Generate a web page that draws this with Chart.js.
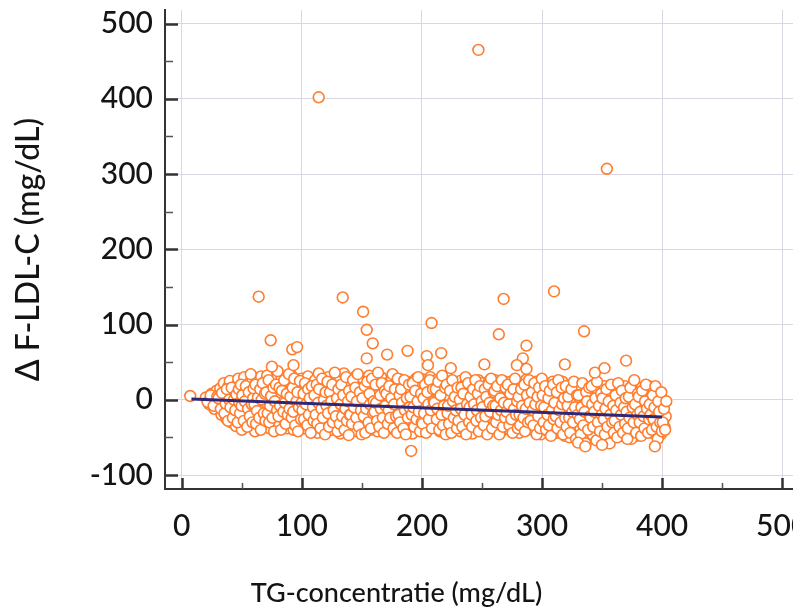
<!DOCTYPE html>
<html>
<head>
<meta charset="utf-8">
<title>TG-concentratie vs F-LDL-C</title>
<script src="https://cdn.jsdelivr.net/npm/chart.js@4.4.1/dist/chart.umd.min.js"></script>
<style>
  html, body { margin: 0; padding: 0; background: #fff; overflow: hidden; }
  #wrap { width: 801px; height: 612px; background: #fff; }
  canvas { display: block; }
</style>
</head>
<body>
<!-- the original picture is cut off at ~793px, so the canvas stops there -->
<div id="wrap"><canvas id="scatterChart" width="793" height="612"></canvas></div>
<script>
/* ===============================
   DATA
   =============================== */

// axis ticks
const xTicks = [0, 100, 200, 300, 400, 500];
const xMinor = [50, 150, 250, 350, 450];
const yTicks = [-100, 0, 100, 200, 300, 400, 500];
const yMinor = [-50, 50, 150, 250, 350, 450];

// main cloud: TG (mg/dL) and delta F-LDL-C (mg/dL), one line per ~10 mg/dL band
const cloudTG = [
  20,23,25,27,28,29,
  31,32,33,34,35,36,37,38,39,39,
  40,41,42,43,44,45,46,46,47,48,49,49,
  50,51,51,52,53,54,55,56,57,57,58,59,59,
  60,61,62,62,63,64,65,66,67,68,68,69,69,
  70,71,71,72,73,74,75,76,77,78,78,79,79,
  80,81,82,82,83,84,85,86,86,87,88,89,89,
  90,91,92,92,93,94,95,96,97,97,98,99,99,
  100,101,101,102,103,104,105,106,107,107,108,109,109,
  110,111,112,112,113,114,115,116,117,117,118,119,119,
  120,121,121,122,123,124,125,126,127,127,128,129,129,
  130,131,132,132,133,134,135,136,137,137,138,139,139,
  140,141,141,142,143,144,145,146,147,147,148,149,149,
  150,151,152,152,153,154,155,156,157,157,158,159,159,
  160,161,161,162,163,164,165,166,167,167,168,169,169,
  170,171,172,172,173,174,175,176,177,177,178,179,179,
  180,181,181,182,183,184,185,186,187,187,188,189,189,
  190,191,192,192,193,194,195,196,197,197,198,199,199,
  200,201,201,202,203,204,205,206,207,207,208,209,209,
  210,211,212,212,213,214,215,216,217,217,218,219,219,
  220,221,221,222,223,224,225,226,227,227,228,229,229,
  230,231,232,232,233,234,235,236,237,237,238,239,239,
  240,241,241,242,243,244,245,246,247,247,248,249,249,
  250,251,252,252,253,254,255,256,257,257,258,259,259,
  260,261,261,262,263,264,265,266,267,267,268,269,269,
  270,271,272,272,273,274,275,276,277,277,278,279,279,
  280,281,281,282,283,284,285,286,287,287,288,289,289,
  290,291,292,292,293,294,295,296,297,297,298,299,299,
  300,301,301,302,303,304,305,306,307,307,308,309,309,
  310,311,312,312,313,314,315,316,317,317,318,319,319,
  320,321,321,322,323,324,325,326,327,327,328,329,329,
  330,331,332,332,333,334,335,336,337,337,338,339,339,
  340,341,341,342,343,344,345,346,347,347,348,349,349,
  350,351,352,352,353,354,355,356,357,357,358,359,359,
  360,361,361,362,363,364,365,366,367,367,368,369,369,
  370,371,372,372,373,374,375,376,377,377,378,379,379,
  380,381,381,382,383,384,385,386,387,387,388,389,389,
  390,391,392,392,393,394,395,396,397,397,398,399,399,
  400,401,401,402,403
];
const cloudDelta = [
  3,-6,8,-12,1,12,
  -8,15,-20,5,22,-3,-25,10,-14,18,
  25,-30,4,-16,12,-35,20,-6,28,-22,-1,8,
  -40,14,-10,30,-25,3,-33,22,-15,9,-4,26,-20,
  17,-42,-8,28,-28,6,-18,31,-36,12,-2,24,-13,
  -24,32,-5,15,-38,-14,20,2,-30,27,-9,11,-20,
  8,-34,22,-17,30,-3,-26,13,-10,25,-38,4,-21,
  -12,33,-29,6,-40,18,-7,27,-19,-1,12,-33,22,
  28,-22,3,-38,15,-11,31,-30,-4,20,-16,9,-42,
  -8,26,-27,12,-44,35,-15,2,23,-35,-3,16,-23,
  19,-33,-10,30,-20,5,-40,24,-6,13,-28,33,-14,
  -25,10,-45,27,-2,-18,35,-36,16,-9,22,-30,4,
  24,-12,-38,8,-27,30,-5,-42,14,-19,1,20,-33,
  -16,28,-35,3,-24,16,-8,32,-40,-1,11,-28,21,
  7,-30,25,-14,-42,13,-22,30,-6,-36,18,-11,2,
  -20,22,-3,-37,12,-27,28,-9,-40,6,-17,25,-31,
  15,-35,-12,27,-24,4,-42,18,-7,-29,23,-15,9,
  -26,10,-45,24,-4,-18,28,-33,1,-12,16,-38,20,
  -8,27,-31,12,-20,-40,18,-3,30,-25,6,-14,22,
  20,-36,-10,26,-22,3,-42,14,-16,28,-30,-1,10,
  -14,30,-28,6,-38,17,-6,24,-34,-19,11,-3,-25,
  12,-24,-42,25,-9,-32,19,-16,4,28,-38,-2,-21,
  -30,16,-8,-45,23,-18,5,-36,26,-12,-26,10,-3,
  22,-28,-12,8,-40,15,-20,25,-34,-4,12,-25,2,
  -18,26,-38,4,-26,14,-10,-42,20,-30,8,-15,24,
  6,-32,18,-20,-40,24,-12,-28,10,-5,-36,15,-22,
  -26,12,-44,22,-8,-34,2,-18,27,-38,-14,16,-30,
  18,-22,-40,8,-12,-30,24,-4,-36,12,-20,-46,2,
  -16,22,-34,-4,-26,10,-42,16,-20,-8,-32,4,24,
  -28,14,-44,-10,20,-22,2,-36,-16,24,-30,8,-48,
  10,-34,-18,16,-50,-6,-26,20,-40,0,-14,-30,12,
  -22,8,-38,18,-12,-55,-28,2,-44,14,-18,-32,-4,
  14,-30,-10,-46,20,-20,4,-38,-14,10,-26,-50,-2,
  -34,6,-20,18,-44,-8,-28,12,-16,-52,-2,-36,8,
  -12,16,-40,-24,4,-32,10,-48,-18,-6,-30,18,-42,
  12,-26,-44,-8,-34,6,-18,20,-38,-2,-28,14,-48,
  -20,10,-36,-6,16,-42,-14,-28,4,-40,-10,18,-24,
  -30,2,-44,-14,12,-24,-38,-4,-18,8,-34,-46,-10,
  -16,-28,-6,-36,-22
];

// second layer of the cloud (the picture is very dense)
const cloud2TG = [
  21.5,24,26.5,29.5,
  30.5,32.5,33.5,35.5,36.5,37.5,38.5,39.5,
  40.5,41.5,42.5,43.5,44.5,45.5,46.5,47.5,47.8,48.5,49.2,49.8,
  50.4,51.6,52.5,53.3,54.5,55.2,55.8,56.6,57.4,58.3,58.8,59.4,59.8,
  60.5,61.3,61.8,62.6,63.4,64.5,65.3,65.8,66.5,67.4,68.3,69.2,69.7,
  70.4,71.5,72.3,72.8,73.6,74.4,75.5,76.3,76.8,77.5,78.4,79.3,79.8,
  80.5,81.3,81.8,82.6,83.4,84.5,85.3,85.8,86.5,87.4,88.3,89.2,89.7,
  90.4,91.5,92.3,92.8,93.6,94.4,95.5,96.3,96.8,97.5,98.4,99.3,99.8,
  100.5,101.3,101.8,102.6,103.4,104.5,105.3,105.8,106.5,107.4,108.3,109.2,109.7,
  110.4,111.5,112.3,112.8,113.6,114.4,115.5,116.3,116.8,117.5,118.4,119.3,119.8,
  120.5,121.3,121.8,122.6,123.4,124.5,125.3,125.8,126.5,127.4,128.3,129.2,129.7,
  130.4,131.5,132.3,132.8,133.6,134.4,135.5,136.3,136.8,137.5,138.4,139.3,139.8,
  140.5,141.3,141.8,142.6,143.4,144.5,145.3,145.8,146.5,147.4,148.3,149.2,149.7,
  150.4,151.5,152.3,152.8,153.6,154.4,155.5,156.3,156.8,157.5,158.4,159.3,159.8,
  160.5,161.3,161.8,162.6,163.4,164.5,165.3,165.8,166.5,167.4,168.3,169.2,169.7,
  170.4,171.5,172.3,172.8,173.6,174.4,175.5,176.3,176.8,177.5,178.4,179.3,179.8,
  180.5,181.3,181.8,182.6,183.4,184.5,185.3,185.8,186.5,187.4,188.3,189.2,189.7,
  190.4,191.5,192.3,192.8,193.6,194.4,195.5,196.3,196.8,197.5,198.4,199.3,199.8,
  200.5,201.3,201.8,202.6,203.4,204.5,205.3,205.8,206.5,207.4,208.3,209.2,209.7,
  210.4,211.5,212.3,212.8,213.6,214.4,215.5,216.3,216.8,217.5,218.4,219.3,219.8,
  220.5,221.3,221.8,222.6,223.4,224.5,225.3,225.8,226.5,227.4,228.3,229.2,229.7,
  230.4,231.5,232.3,232.8,233.6,234.4,235.5,236.3,236.8,237.5,238.4,239.3,239.8,
  240.5,241.3,241.8,242.6,243.4,244.5,245.3,245.8,246.5,247.4,248.3,249.2,249.7,
  250.4,251.5,252.3,252.8,253.6,254.4,255.5,256.3,256.8,257.5,258.4,259.3,259.8,
  260.5,261.3,261.8,262.6,263.4,264.5,265.3,265.8,266.5,267.4,268.3,269.2,269.7,
  270.4,271.5,272.3,272.8,273.6,274.4,275.5,276.3,276.8,277.5,278.4,279.3,279.8,
  280.5,281.3,281.8,282.6,283.4,284.5,285.3,285.8,286.5,287.4,288.3,289.2,289.7,
  290.4,291.5,292.3,292.8,293.6,294.4,295.5,296.3,296.8,297.5,298.4,299.3,299.8,
  300.5,301.3,301.8,302.6,303.4,304.5,305.3,305.8,306.5,307.4,308.3,309.2,309.7,
  310.4,311.5,312.3,312.8,313.6,314.4,315.5,316.3,316.8,317.5,318.4,319.3,319.8,
  320.5,321.3,321.8,322.6,323.4,324.5,325.3,325.8,326.5,327.4,328.3,329.2,329.7,
  330.4,331.5,332.3,332.8,333.6,334.4,335.5,336.3,336.8,337.5,338.4,339.3,339.8,
  340.5,341.3,341.8,342.6,343.4,344.5,345.3,345.8,346.5,347.4,348.3,349.2,349.7,
  350.4,351.5,352.3,352.8,353.6,354.4,355.5,356.3,356.8,357.5,358.4,359.3,359.8,
  360.5,361.3,361.8,362.6,363.4,364.5,365.3,365.8,366.5,367.4,368.3,369.2,369.7,
  370.4,371.5,372.3,372.8,373.6,374.4,375.5,376.3,376.8,377.5,378.4,379.3,379.8,
  380.5,381.3,381.8,382.6,383.4,384.5,385.3,385.8,386.5,387.4,388.3,389.2,389.7,
  390.4,391.5,392.3,392.8,393.6,394.4,395.5,396.3,396.8,397.5,398.4,399.3,399.8,
  400.5,401.5,402.5,403.5
];
const cloud2Delta = [
  -3,6,-8,4,
  2,-12,9,-18,-5,14,-28,0,
  -10,16,-24,0,-14,7,-30,14,-4,-18,20,-8,
  6,-28,-2,18,-36,-12,10,-22,34,-6,-30,2,15,
  -6,20,-32,-15,3,-24,14,-40,0,22,-18,8,-28,
  10,-18,26,-30,-8,5,-24,16,-42,-2,20,-14,38,
  -22,16,-8,-40,12,-16,26,-4,-32,8,-20,34,-12,
  4,-24,16,-16,28,-34,-2,10,-42,-10,25,-26,-4,
  -14,8,-26,22,-6,-34,14,-20,2,-44,18,-10,-28,
  6,-20,20,-32,-4,14,-38,-12,28,-24,0,-46,10,
  -8,24,-18,-36,10,-2,20,-30,-14,36,-22,2,-42,
  14,-32,-6,20,-22,6,-40,-12,30,-28,-2,12,-20,
  -20,4,-32,26,-10,16,-24,-2,34,-36,10,-14,-46,
  2,-22,18,-44,-12,24,-30,8,-6,-38,28,-18,-2,
  -16,20,-4,-28,36,-36,6,-12,22,-24,-44,12,-8,
  8,-32,-14,18,-24,2,34,-38,-6,14,-22,-44,28,
  -20,6,-30,14,-4,-38,26,-14,-46,2,-24,20,-10,
  4,-20,22,-10,-36,12,-26,-2,30,-16,-42,8,-30,
  -32,2,-18,20,-44,10,-6,-26,26,-14,-38,14,-2,
  -4,14,-26,-12,24,-40,6,-20,32,-34,-8,16,-46,
  20,-18,-8,-32,12,-44,26,-2,-24,4,-14,-38,16,
  -28,0,-12,16,-36,8,-20,30,-46,-6,22,-30,-10,
  4,-20,-36,14,-6,26,-28,-14,8,-42,18,-24,-2,
  -10,-34,14,-22,4,-46,20,-4,-16,28,-38,-8,10,
  12,-8,-30,18,-20,-46,2,-14,26,-36,-4,-24,16,
  -16,20,-6,-34,8,-26,-44,14,-12,28,-20,-2,-38,
  4,-20,-34,14,-8,-24,20,-42,-12,6,-30,26,-4,
  -28,10,-14,-34,22,-6,-46,4,-22,16,-38,-8,28,
  6,-30,-10,18,-40,-20,2,-34,12,-48,-14,20,-26,
  -4,-22,10,-38,26,-14,-30,16,-6,-46,2,-24,18,
  -36,-8,4,-24,-44,14,-16,-30,24,-10,-52,6,-20,
  6,-26,-46,-10,22,-34,-16,-58,10,-2,-40,16,-22,
  -24,18,-6,-36,-16,2,-54,24,-30,-8,-42,8,-20,
  2,-26,-46,-12,14,-36,-2,-58,-20,20,-30,-8,-44,
  -28,6,-14,-50,22,-36,-4,-20,12,-44,-10,-32,2,
  -16,-38,4,-24,16,-52,-10,-30,26,-6,-44,-20,8,
  4,-30,-16,-48,12,-22,-38,-2,20,-12,-44,-26,-6,
  -20,-40,6,-26,-10,18,-36,-52,-2,-16,-30,10,-42,
  -30,-12,-40,-2
];

// scattered points outside the cloud
const outlierTG = [
  7, 64, 74, 92, 96, 75, 93, 114, 247, 354,
  134, 151, 154, 159, 208, 171, 188, 204, 205, 216,
  154, 224, 191, 268, 310, 264, 335, 287, 252, 284,
  279, 287, 319, 344, 352, 370, 394, 330, 336, 350, 371, 139
];
const outlierDelta = [
  5, 137, 79, 67, 70, 44, 46, 402, 465, 307,
  136, 117, 93, 75, 102, 60, 65, 58, 46, 62,
  55, 42, -68, 134, 144, 87, 91, 72, 47, 55,
  46, 41, 47, 36, 42, 52, -62, -57, -62, -60, -52, -47
];

// regression line end points
const fitTG = [8, 400];
const fitDelta = [1, -23];

/* ------------------------------
   HELPERS
--------------------------------*/
function toPoints(xs, ys){
  let out = [];
  for (let i = 0; i < Math.min(xs.length, ys.length); i++) {
    out.push({ x: xs[i], y: ys[i] });
  }
  return out;
}

const FONT = "Lato, 'Open Sans', sans-serif";
const INK = "#141414";
const ORANGE = "#ff7d2e";
const NO_PAD = () => ({ left: 0, top: 0, right: 0, bottom: 0 });

// inward tick marks (axis decoration)
const innerTicks = {
  id: "innerTicks",
  afterDraw(chart){
    const ctx = chart.ctx;
    const xs = chart.scales.x;
    const ys = chart.scales.y;
    const a = chart.chartArea;

    ctx.save();
    ctx.strokeStyle = "#333";
    ctx.lineWidth = 2.5;
    ctx.beginPath();
    xTicks.forEach(v => {
      const px = Math.round(xs.getPixelForValue(v)) + 0.5;
      ctx.moveTo(px, a.bottom); ctx.lineTo(px, a.bottom - 11);
    });
    yTicks.forEach(v => {
      const py = Math.round(ys.getPixelForValue(v)) + 0.5;
      ctx.moveTo(a.left, py); ctx.lineTo(a.left + 13, py);
    });
    ctx.stroke();

    ctx.lineWidth = 1.5;
    ctx.strokeStyle = "#555";
    ctx.beginPath();
    xMinor.forEach(v => {
      const px = Math.round(xs.getPixelForValue(v)) + 0.5;
      ctx.moveTo(px, a.bottom); ctx.lineTo(px, a.bottom - 6);
    });
    yMinor.forEach(v => {
      const py = Math.round(ys.getPixelForValue(v)) + 0.5;
      ctx.moveTo(a.left, py); ctx.lineTo(a.left + 8, py);
    });
    ctx.stroke();
    ctx.restore();
  }
};

const whiteBg = {
  id: "whiteBg",
  beforeDraw(chart){
    const ctx = chart.ctx;
    ctx.save();
    ctx.fillStyle = "#fff";
    ctx.fillRect(0, 0, chart.width, chart.height);
    ctx.restore();
  }
};

function circleSet(label, xs, ys, order){
  return {
    label,
    data: toPoints(xs, ys),
    borderColor: ORANGE,
    backgroundColor: "#fff",
    borderWidth: 1.6,
    pointRadius: 5.4,
    order
  };
}

/* ------------------------------
   CHART
--------------------------------*/
const ctx = document.getElementById("scatterChart").getContext("2d");

new Chart(ctx, {
  type: "scatter",
  data: {
    datasets: [
      {
        type: "line",
        label: "fit",
        data: toPoints(fitTG, fitDelta),
        borderColor: "#2f2877",
        borderWidth: 3,
        pointRadius: 0,
        fill: false,
        order: 0
      },
      circleSet("outliers", outlierTG, outlierDelta, 1),
      circleSet("cloud2", cloud2TG, cloud2Delta, 2),
      circleSet("cloud", cloudTG, cloudDelta, 3)
    ]
  },
  options: {
    responsive: false,
    animation: false,
    devicePixelRatio: 1,
    layout: {
      autoPadding: false,
      padding: { left: 0, right: 0, top: 10, bottom: 0 }
    },
    plugins: {
      legend: { display: false },
      tooltip: { enabled: false },
      title: {
        display: true,
        position: "bottom",
        text: "TG-concentratie (mg/dL)",
        color: INK,
        font: { family: FONT, size: 27, weight: "500" },
        padding: { top: 0, bottom: 3 }
      }
    },
    scales: {
      x: {
        type: "linear",
        min: -14,
        max: 509,
        afterBuildTicks: s => { s.ticks = xTicks.map(v => ({ value: v })); },
        afterFit: s => {
          s.height = 87.6;
          s.paddingLeft = 0; s.paddingRight = 0;
          s.getPadding = NO_PAD;
        },
        ticks: {
          color: INK,
          font: { family: FONT, size: 30, weight: "500" },
          padding: 19,
          maxRotation: 0,
          autoSkip: false
        },
        grid: { color: "#dcd6e2", lineWidth: 1, drawTicks: false },
        border: { color: "#333", width: 2 }
      },
      y: {
        type: "linear",
        min: -118.6,
        max: 518,
        afterBuildTicks: s => { s.ticks = yTicks.map(v => ({ value: v })); },
        afterFit: s => {
          s.width = 165;
          s.paddingTop = 0; s.paddingBottom = 0;
          s.getPadding = NO_PAD;
        },
        ticks: {
          color: INK,
          font: { family: FONT, size: 30, weight: "500" },
          padding: 12,
          autoSkip: false
        },
        grid: { color: "#dcd6e2", lineWidth: 1, drawTicks: false },
        border: { color: "#333", width: 2 },
        title: {
          display: true,
          text: "\u0394 F-LDL-C (mg/dL)",
          color: INK,
          font: { family: FONT, size: 32, weight: "500" },
          padding: { top: 9, bottom: 0 }
        }
      }
    }
  },
  plugins: [whiteBg, innerTicks]
});
</script>
</body>
</html>
